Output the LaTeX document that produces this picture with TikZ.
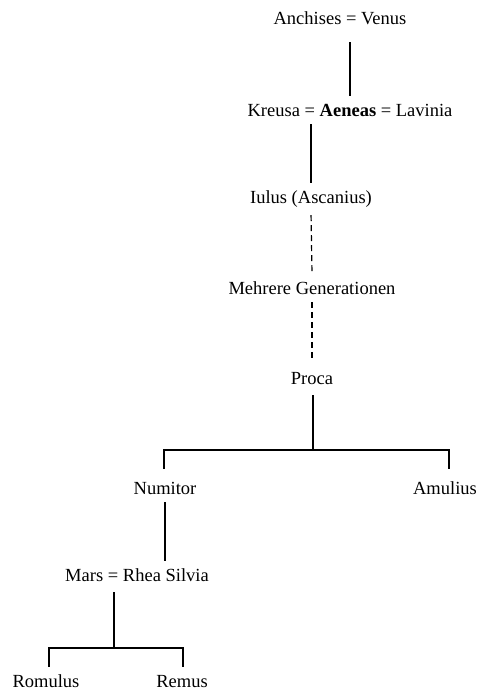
\documentclass[tikz,border=0pt]{standalone}
\usepackage{fontspec}
\setmainfont{Liberation Serif}
\begin{document}
\begin{tikzpicture}[x=1pt,y=-1pt,
  person/.style={font=\fontsize{18.5}{22}\selectfont, text height=12pt, text depth=0pt, inner xsep=2pt, inner ysep=8pt},
  link/.style={line width=1.2pt},
  dashlink/.style={line width=1.2pt, dash pattern=on 6pt off 4pt}]
\useasboundingbox (0,0) rectangle (478,691);
\node[person] (anch) at (340,18) {Anchises = Venus};
\node[person] (kre) at (350,110) {Kreusa = \textbf{Aeneas} = Lavinia};
\node[person] (iul) at (311,197) {Iulus (Ascanius)};
\node[person] (meh) at (312,288) {Mehrere Generationen};
\node[person] (proca) at (312,378) {Proca};
\node[person] (num) at (165,488) {Numitor};
\node[person] (amu) at (445,488) {Amulius};
\node[person] (mars) at (137,575) {Mars = Rhea Silvia};
\node[person] (rom) at (46,681) {Romulus};
\node[person] (rem) at (182,681) {Remus};
\coordinate (pb) at (313,450);
\coordinate (mb) at (114,648);
\draw[link, shorten <=10pt] (anch.south -| kre.north) -- (kre.north);
\draw[link] (kre.south -| iul.north) -- (iul.north);
\draw[dashlink, shorten <=4pt] (iul.south) -- (meh.north);
\draw[dashlink, shorten >=3pt] (meh.south) -- (proca.north);
\draw[link, shorten <=3pt] (proca.south -| pb) -- (pb);
\draw[link, shorten <=5pt, shorten >=5pt] ([xshift=-1pt]num.north) |- (pb) -| ([xshift=4pt]amu.north);
\draw[link] (num.south) -- (num.south |- mars.north);
\draw[link, shorten <=3pt] (mars.south -| mb) -- (mb);
\draw[link] ([xshift=3pt]rom.north) |- (mb) -| ([xshift=1pt]rem.north);
\end{tikzpicture}
\end{document}
